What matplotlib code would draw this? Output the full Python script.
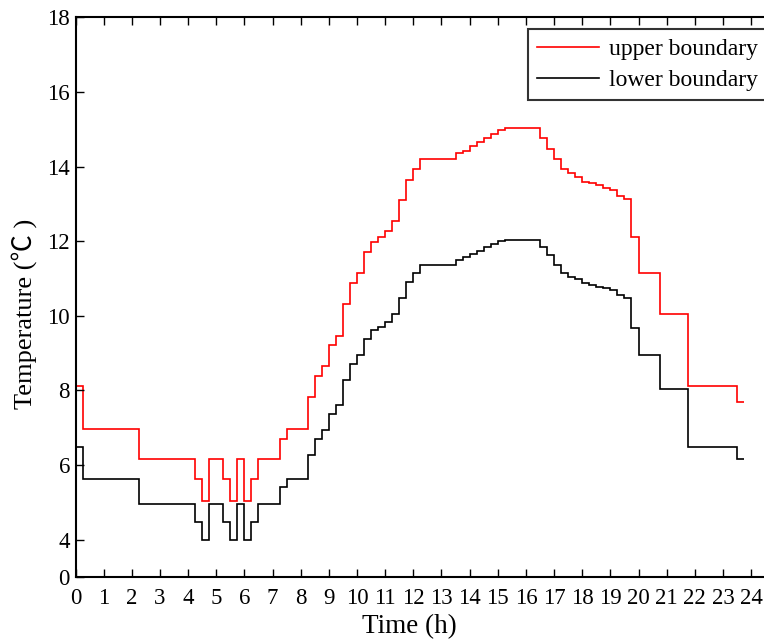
import matplotlib
matplotlib.use("Agg")
import matplotlib.pyplot as plt

# Step edges (hours) shared by both series
edges = [0, 0.25, 2.25, 4.25, 4.5, 4.75, 5.25, 5.5, 5.75, 6.0, 6.25, 6.5, 7.25, 7.5,
         8.25, 8.5, 8.75, 9.0, 9.25, 9.5, 9.75, 10.0, 10.25, 10.5, 10.75, 11.0, 11.25,
         11.5, 11.75, 12.0, 12.25, 13.5, 13.75, 14.0, 14.25, 14.5, 14.75, 15.0, 15.25,
         16.5, 16.75, 17.0, 17.25, 17.5, 17.75, 18.0, 18.25, 18.5, 18.75, 19.0, 19.25,
         19.5, 19.75, 20.0, 20.75, 21.75, 23.5, 23.75]

upper = [8.13, 6.97, 6.15, 5.63, 5.05, 6.15, 5.63, 5.05, 6.15, 5.05, 5.63, 6.15, 6.71,
         6.97, 7.82, 8.38, 8.65, 9.21, 9.47, 10.31, 10.88, 11.14, 11.70, 11.97, 12.11,
         12.28, 12.54, 13.11, 13.64, 13.93, 14.19, 14.35, 14.42, 14.55, 14.65, 14.77,
         14.87, 14.99, 15.03, 14.76, 14.46, 14.19, 13.93, 13.82, 13.71, 13.59, 13.55,
         13.50, 13.43, 13.38, 13.21, 13.12, 12.12, 11.14, 10.06, 8.13, 7.69]

lower = [6.49, 5.63, 4.96, 4.47, 4.00, 4.96, 4.47, 4.00, 4.96, 4.00, 4.47, 4.96, 5.42,
         5.63, 6.27, 6.71, 6.94, 7.38, 7.60, 8.29, 8.72, 8.95, 9.39, 9.62, 9.70, 9.83,
         10.06, 10.47, 10.91, 11.14, 11.36, 11.49, 11.57, 11.66, 11.75, 11.84, 11.92,
         12.00, 12.03, 11.84, 11.63, 11.36, 11.14, 11.05, 10.98, 10.89, 10.83, 10.78,
         10.74, 10.70, 10.57, 10.47, 9.68, 8.95, 8.03, 6.49, 6.15]

xticks = list(range(0, 25))
yticks = [3, 4, 6, 8, 10, 12, 14, 16, 18]
ytick_labels = ["0", "4", "6", "8", "10", "12", "14", "16", "18"]

serif = ["Liberation Serif", "Noto Sans CJK SC", "DejaVu Serif"]
plt.rcParams["font.family"] = serif

fig = plt.figure(figsize=(7.64, 6.4), dpi=100)
ax = fig.add_axes([75.5 / 764, 1 - 577 / 640, (768 - 75.5) / 764, (577 - 17.3) / 640])

ax.stairs(upper, edges, color="#ff0000", lw=1.2, baseline=None, label="upper boundary")
ax.stairs(lower, edges, color="black", lw=1.2, baseline=None, label="lower boundary")

ax.set_xlim(0, (768 - 75.5) / 28.15)
ax.set_ylim(3, 18)
ax.set_xticks(xticks)
ax.set_xticklabels([str(t) for t in xticks])
ax.set_yticks(yticks)
ax.set_yticklabels(ytick_labels)
ax.tick_params(direction="in", top=True, right=False, length=6, width=1.0,
               labelsize=16.5)
ax.tick_params(axis="x", pad=8)
ax.tick_params(axis="y", pad=4)
for s in ax.spines.values():
    s.set_linewidth(1.5)

ax.set_xlabel("Time (h)", fontsize=19.5)
ax.xaxis.label.set_verticalalignment("center")
ax.xaxis.set_label_coords((409 - 75.5) / (768 - 75.5), -(627 - 577) / (577 - 17.3))

ax.set_ylabel("Temperature (℃ )", fontsize=19)
ax.yaxis.label.set_verticalalignment("center")
ax.yaxis.set_label_coords(-(75.5 - 24) / (768 - 75.5), (577 - 314) / (577 - 17.3))

leg = ax.legend(loc="upper left", bbox_to_anchor=(528 / 764, 1 - 29 / 640),
                bbox_transform=fig.transFigure, borderaxespad=0, fontsize=17,
                frameon=True, fancybox=False, handlelength=2.6, handletextpad=0.45,
                labelspacing=0.4, borderpad=0.4)
leg.get_frame().set_edgecolor("black")
leg.get_frame().set_linewidth(1.5)

fig.savefig("out.png", dpi=100)
